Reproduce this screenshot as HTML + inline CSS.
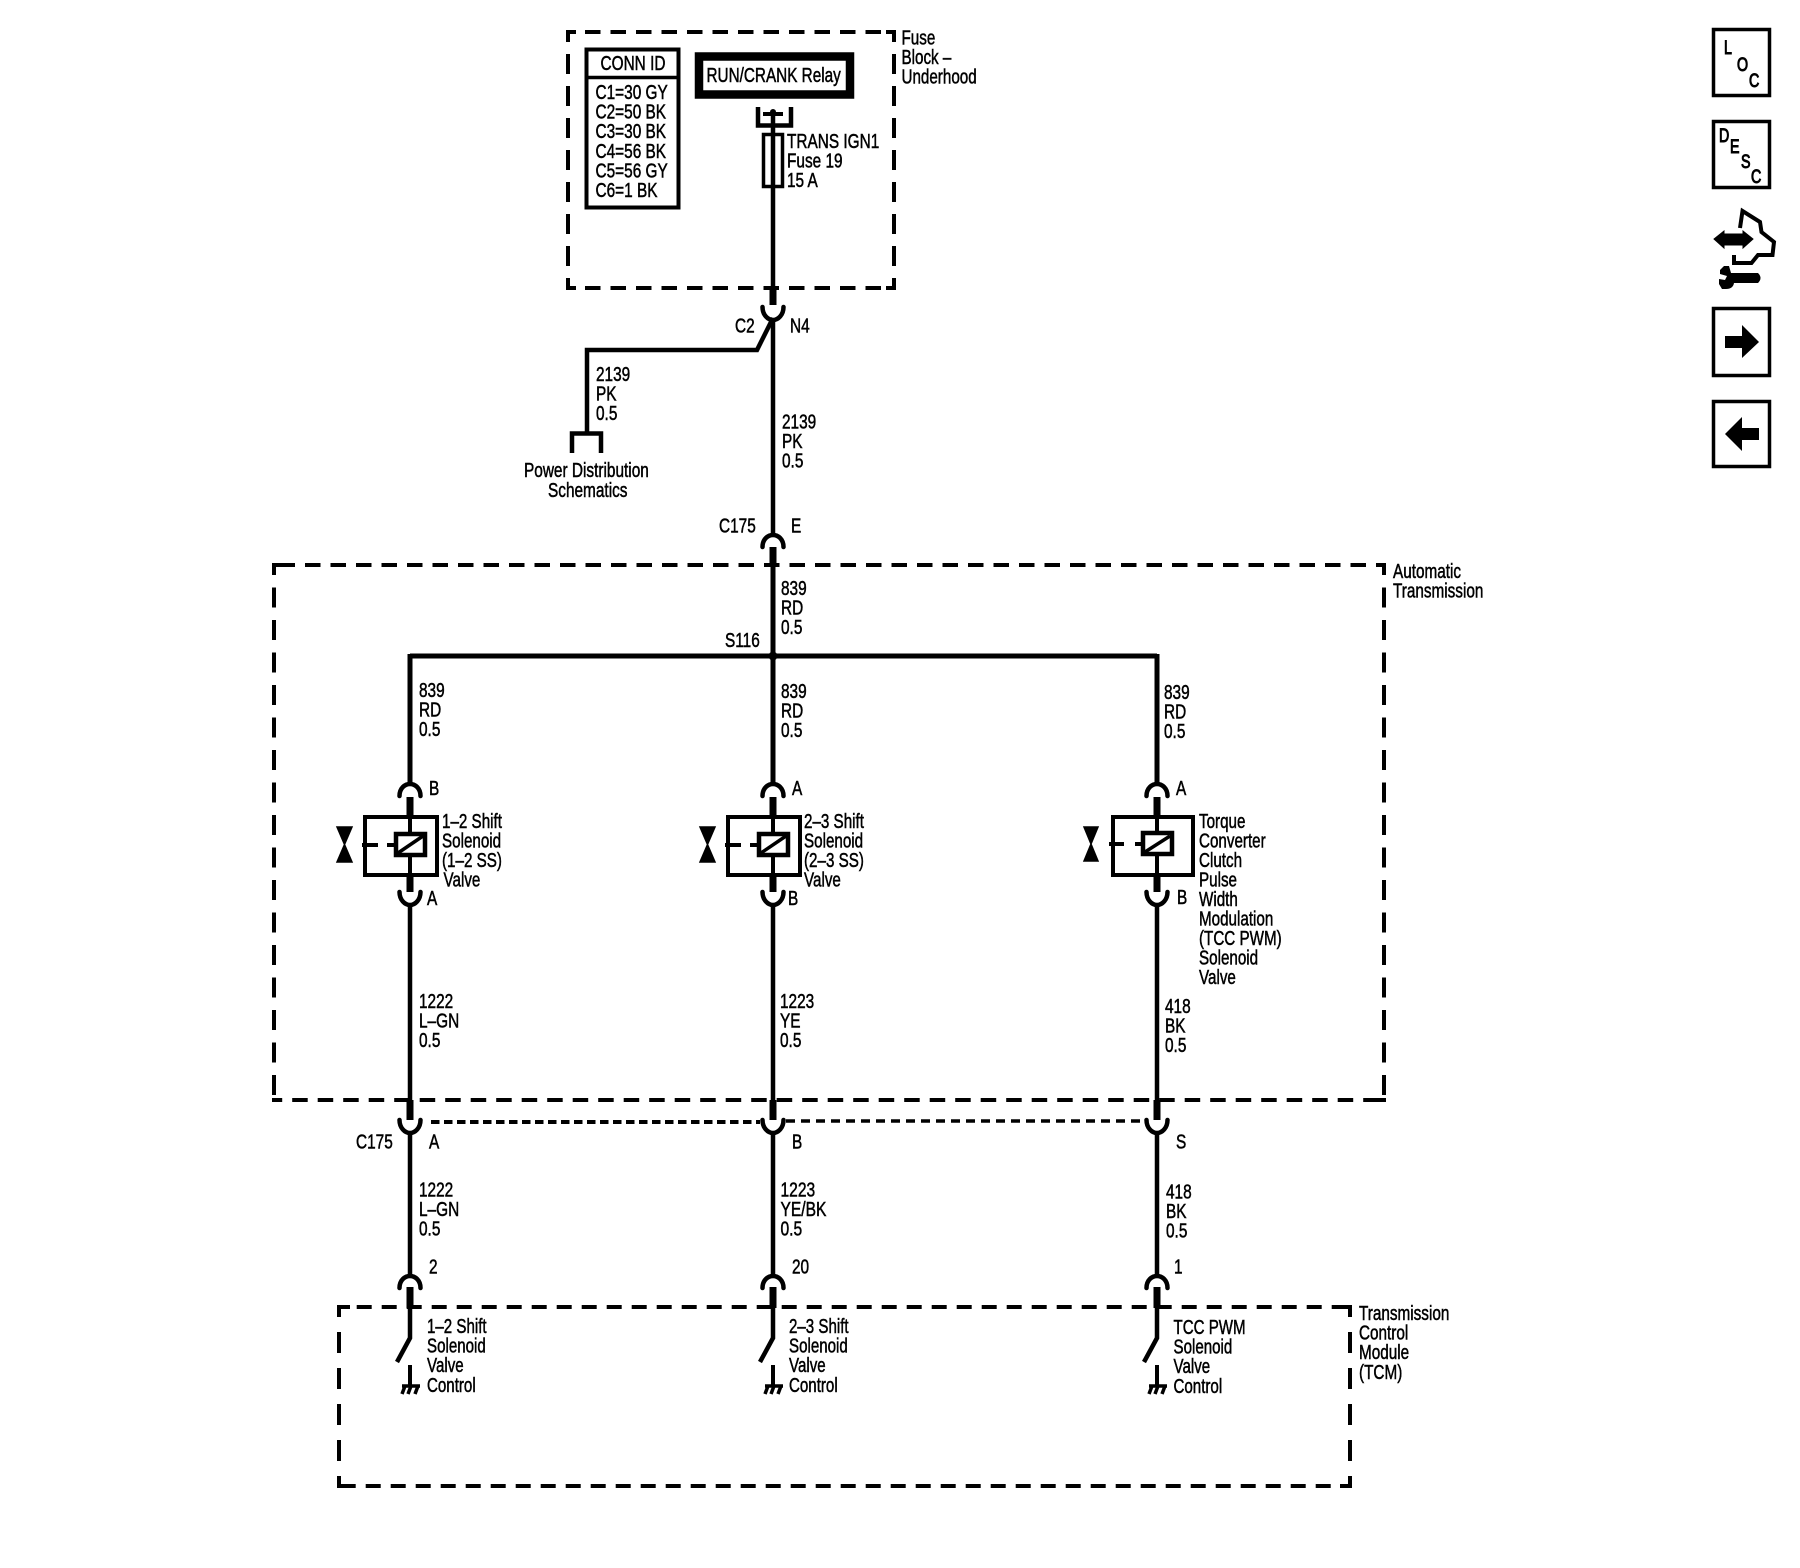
<!DOCTYPE html>
<html><head><meta charset="utf-8">
<style>
html,body{margin:0;padding:0;background:#fff}
svg{display:block}
text{font-family:"Liberation Sans",sans-serif;font-size:20px;fill:#000;stroke:#000;stroke-width:.5}
.w{fill:none;stroke:#000;stroke-width:4.500}
.t{fill:none;stroke:#000;stroke-width:7}
.a{fill:none;stroke:#000;stroke-width:4.500;stroke-linecap:round}
.h{fill:none;stroke:#000;stroke-width:4;stroke-dasharray:15.500 10}
.v{fill:none;stroke:#000;stroke-width:4;stroke-dasharray:20 12;stroke-dashoffset:8}
.b{fill:none;stroke:#000;stroke-width:4}
.i{stroke-width:1;font-size:19px}
</style></head><body>
<svg width="1800" height="1568" viewBox="0 0 1800 1568" xmlns="http://www.w3.org/2000/svg">
<defs>
<g id="top"><path class="a" d="M-10.500 13C-10.500 5-5 1 0 1S10.500 5 10.500 13"/></g>
<g id="bot"><path class="a" d="M-10.500 0C-10.500 8-5 13 0 13S10.500 8 10.500 0"/></g>
<g id="sol">
<rect class="b" x="-45" y="0" width="72" height="58"/>
<rect x="-14" y="17" width="29" height="21" fill="#fff" stroke="#000" stroke-width="4.500"/>
<path d="M-12 36L13 19" stroke="#000" stroke-width="3.500"/>
<path d="M-48 28H-32M-23 28H-14" stroke="#000" stroke-width="4"/>
<path d="M-73 10H-58L-65.500 27.500L-58 45H-73L-65.500 27.500Z" fill="#000" stroke="#000" stroke-width="1.500"/>
<path d="M0 0V17M0 38V58" stroke="#000" stroke-width="4"/>
</g>
<g id="gnd">
<path d="M0 0V20" stroke="#000" stroke-width="4"/>
<path d="M-8 21H10" stroke="#000" stroke-width="3.500"/>
<path d="M-5 21L-8 29M1 21L-2 29M8 21L5 29" stroke="#000" stroke-width="3.500"/>
</g>
</defs>

<!-- Fuse block -->
<path class="h" style="stroke-dashoffset:8.500" d="M568 32H894M568 288H894"/>
<path class="v" d="M568 30V290M894 30V290"/>
<path d="M566 32H576M886 32H896M566 288H576M886 288H896" stroke="#000" stroke-width="4"/>
<rect x="586.500" y="49.500" width="92" height="158" fill="#fff" stroke="#000" stroke-width="4"/>
<path d="M586 77.500H679" stroke="#000" stroke-width="3.500"/>
<rect x="699" y="56.500" width="151" height="38" fill="#fff" stroke="#000" stroke-width="8.500"/>

<path d="M758 107V125.500H791V107" class="w"/>
<path d="M763 114H783" stroke="#000" stroke-width="4"/>
<path d="M773 110V288" class="w"/>
<circle cx="773" cy="112" r="3"/>
<rect x="763.500" y="134.500" width="19" height="52" fill="none" stroke="#000" stroke-width="3.500"/>
<path d="M773 288V305" class="t"/>
<use href="#bot" x="773" y="307"/>

<!-- C2 branch -->
<path class="w" d="M773 318V535"/>
<path class="w" d="M773 318L757 350H587V433"/>
<path class="w" d="M572 453V433.500H601V453"/>
<use href="#top" x="773" y="534"/>
<path d="M773 547V567" class="t"/>

<!-- Auto trans box -->
<path class="h" style="stroke-dashoffset:20" d="M274 565H1384"/>
<path class="h" style="stroke-dashoffset:7.300" d="M274 1100H1384"/>
<path class="v" style="stroke-dasharray:20 12.500" d="M274 563V1102M1384 563V1102"/>
<path d="M272 565H282M1376 565H1386M272 1100H282M1376 1100H1386" stroke="#000" stroke-width="4"/>
<path d="M773 567V660M410 656H1157M410 654V783M773 654V783M1157 654V783" class="w" style="stroke-width:5"/>
<circle cx="773" cy="656" r="4.500"/>

<!-- solenoids -->
<use href="#top" x="410" y="783"/><path class="t" d="M410 797V817M410 875V892"/>
<use href="#sol" transform="translate(410 817)"/>
<use href="#bot" x="410" y="892"/>
<use href="#top" x="773" y="783"/><path class="t" d="M773 797V817M773 875V892"/>
<use href="#sol" x="773" y="817"/>
<use href="#bot" x="773" y="892"/>
<use href="#top" x="1157" y="783"/><path class="t" d="M1157 797V817M1157 875V892"/>
<rect class="b" x="1113" y="817" width="80" height="58"/>
<rect x="1143" y="833" width="29" height="21" fill="#fff" stroke="#000" stroke-width="4.500"/>
<path d="M1145 852L1170 836" stroke="#000" stroke-width="3.500"/>
<path d="M1109 844H1124M1135 844H1143" stroke="#000" stroke-width="4"/>
<path d="M1084 827H1098L1091 844L1098 861H1084L1091 844Z" fill="#000" stroke="#000" stroke-width="1.500"/>
<path d="M1157 817V833M1157 854V875" stroke="#000" stroke-width="4"/>
<use href="#bot" x="1157" y="892"/>

<!-- vertical wires to C175 lower -->
<path class="w" d="M410 906V1100M773 906V1100M1157 906V1100"/>
<path class="t" d="M410 1100V1120M773 1100V1120M1157 1100V1120"/>
<use href="#bot" x="410" y="1120"/><use href="#bot" x="773" y="1120"/><use href="#bot" x="1157" y="1120"/>
<path d="M431 1122H760" stroke="#000" stroke-width="4" stroke-dasharray="8.500 4.500" fill="none"/>
<path d="M786 1121H1145" stroke="#000" stroke-width="3.500" stroke-dasharray="9 6" fill="none"/>
<path class="w" d="M410 1133V1275M773 1133V1275M1157 1133V1275"/>
<use href="#top" x="410" y="1275"/><use href="#top" x="773" y="1275"/><use href="#top" x="1157" y="1275"/>
<path class="t" d="M410 1287V1308M773 1287V1308M1157 1287V1308"/>

<!-- TCM -->
<path class="h" style="stroke-dasharray:15 10;stroke-dashoffset:7.300" d="M339 1307H1350"/>
<path class="h" style="stroke-dasharray:15 10;stroke-dashoffset:23.300" d="M339 1486H1350"/>
<path class="v" style="stroke-dasharray:21 15;stroke-dashoffset:9" d="M339 1305V1488M1350 1305V1488"/>
<path d="M1340 1307H1352M1340 1486H1352M337 1307H350M337 1486H350" stroke="#000" stroke-width="4"/>
<path class="w" d="M410 1308V1338L397 1362M773 1308V1338L760 1362M1157 1308V1338L1144 1362"/>
<use href="#gnd" x="410" y="1365"/><use href="#gnd" x="773" y="1365"/><use href="#gnd" x="1157" y="1365"/>

<!-- Text: Fuse block -->
<text transform="translate(901.500 44.500) scale(.76 1)"><tspan x="0">Fuse</tspan><tspan x="0" dy="19.600">Block –</tspan><tspan x="0" dy="19.600">Underhood</tspan></text>
<text transform="translate(600.500 70) scale(.77 1)">CONN ID</text>
<text transform="translate(595.500 99) scale(.77 1)"><tspan x="0">C1=30 GY</tspan><tspan x="0" dy="19.600">C2=50 BK</tspan><tspan x="0" dy="19.600">C3=30 BK</tspan><tspan x="0" dy="19.600">C4=56 BK</tspan><tspan x="0" dy="19.600">C5=56 GY</tspan><tspan x="0" dy="19.600">C6=1 BK</tspan></text>
<text transform="translate(706.500 82) scale(.765 1)">RUN/CRANK Relay</text>
<text transform="translate(787 148) scale(.77 1)"><tspan x="0">TRANS IGN1</tspan><tspan x="0" dy="19.600">Fuse 19</tspan><tspan x="0" dy="19.600">15 A</tspan></text>
<text transform="translate(735 332.500) scale(.77 1)">C2</text>
<text transform="translate(790 332.500) scale(.77 1)">N4</text>
<text transform="translate(596 381) scale(.77 1)"><tspan x="0">2139</tspan><tspan x="0" dy="19.600">PK</tspan><tspan x="0" dy="19.600">0.5</tspan></text>
<text transform="translate(782 428.500) scale(.77 1)"><tspan x="0">2139</tspan><tspan x="0" dy="19.600">PK</tspan><tspan x="0" dy="19.600">0.5</tspan></text>
<text transform="translate(524 477) scale(.77 1)">Power Distribution</text>
<text transform="translate(548 497) scale(.77 1)">Schematics</text>
<text transform="translate(719 532.500) scale(.77 1)">C175</text>
<text transform="translate(791 532.500) scale(.77 1)">E</text>
<text transform="translate(781 595) scale(.77 1)"><tspan x="0">839</tspan><tspan x="0" dy="19.600">RD</tspan><tspan x="0" dy="19.600">0.5</tspan></text>
<text transform="translate(725 647) scale(.77 1)">S116</text>
<text transform="translate(1393 578) scale(.765 1)"><tspan x="0">Automatic</tspan><tspan x="0" dy="19.600">Transmission</tspan></text>
<text transform="translate(419 697) scale(.77 1)"><tspan x="0">839</tspan><tspan x="0" dy="19.600">RD</tspan><tspan x="0" dy="19.600">0.5</tspan></text>
<text transform="translate(781 698) scale(.77 1)"><tspan x="0">839</tspan><tspan x="0" dy="19.600">RD</tspan><tspan x="0" dy="19.600">0.5</tspan></text>
<text transform="translate(1164 699) scale(.77 1)"><tspan x="0">839</tspan><tspan x="0" dy="19.600">RD</tspan><tspan x="0" dy="19.600">0.5</tspan></text>
<text transform="translate(429 795) scale(.77 1)">B</text>
<text transform="translate(792 795) scale(.77 1)">A</text>
<text transform="translate(1176 795) scale(.77 1)">A</text>
<text transform="translate(427 905) scale(.77 1)">A</text>
<text transform="translate(788 905) scale(.77 1)">B</text>
<text transform="translate(1177 904) scale(.77 1)">B</text>
<text transform="translate(442 828) scale(.76 1)"><tspan x="0">1–2 Shift</tspan><tspan x="0" dy="19.500">Solenoid</tspan><tspan x="0" dy="19.500">(1–2 SS)</tspan><tspan x="2" dy="19.500">Valve</tspan></text>
<text transform="translate(804 828) scale(.76 1)"><tspan x="0">2–3 Shift</tspan><tspan x="0" dy="19.500">Solenoid</tspan><tspan x="0" dy="19.500">(2–3 SS)</tspan><tspan x="0" dy="19.700">Valve</tspan></text>
<text transform="translate(1199 828) scale(.76 1)"><tspan x="0">Torque</tspan><tspan x="0" dy="19.500">Converter</tspan><tspan x="0" dy="19.500">Clutch</tspan><tspan x="0" dy="19.500">Pulse</tspan><tspan x="0" dy="19.500">Width</tspan><tspan x="0" dy="19.500">Modulation</tspan><tspan x="0" dy="19.500">(TCC PWM)</tspan><tspan x="0" dy="19.500">Solenoid</tspan><tspan x="0" dy="19.500">Valve</tspan></text>
<text transform="translate(419 1008) scale(.77 1)"><tspan x="0">1222</tspan><tspan x="0" dy="19.600">L–GN</tspan><tspan x="0" dy="19.600">0.5</tspan></text>
<text transform="translate(780 1008) scale(.77 1)"><tspan x="0">1223</tspan><tspan x="0" dy="19.600">YE</tspan><tspan x="0" dy="19.600">0.5</tspan></text>
<text transform="translate(1165 1013) scale(.77 1)"><tspan x="0">418</tspan><tspan x="0" dy="19.600">BK</tspan><tspan x="0" dy="19.600">0.5</tspan></text>
<text transform="translate(356 1148.500) scale(.77 1)">C175</text>
<text transform="translate(429 1148.500) scale(.77 1)">A</text>
<text transform="translate(792 1148.500) scale(.77 1)">B</text>
<text transform="translate(1176 1148.500) scale(.77 1)">S</text>
<text transform="translate(419 1196.500) scale(.77 1)"><tspan x="0">1222</tspan><tspan x="0" dy="19.600">L–GN</tspan><tspan x="0" dy="19.600">0.5</tspan></text>
<text transform="translate(780.500 1196.500) scale(.78 1)"><tspan x="0">1223</tspan><tspan x="0" dy="19.600">YE/BK</tspan><tspan x="0" dy="19.600">0.5</tspan></text>
<text transform="translate(1166 1198.500) scale(.77 1)"><tspan x="0">418</tspan><tspan x="0" dy="19.600">BK</tspan><tspan x="0" dy="19.600">0.5</tspan></text>
<text transform="translate(429 1273.500) scale(.77 1)">2</text>
<text transform="translate(792 1273.500) scale(.77 1)">20</text>
<text transform="translate(1174 1273.500) scale(.77 1)">1</text>
<text transform="translate(427 1333) scale(.755 1)"><tspan x="0">1–2 Shift</tspan><tspan x="0" dy="19.600">Solenoid</tspan><tspan x="0" dy="19.600">Valve</tspan><tspan x="0" dy="19.600">Control</tspan></text>
<text transform="translate(789 1333) scale(.755 1)"><tspan x="0">2–3 Shift</tspan><tspan x="0" dy="19.600">Solenoid</tspan><tspan x="0" dy="19.600">Valve</tspan><tspan x="0" dy="19.600">Control</tspan></text>
<text transform="translate(1173.500 1334) scale(.755 1)"><tspan x="0">TCC PWM</tspan><tspan x="0" dy="19.600">Solenoid</tspan><tspan x="0" dy="19.600">Valve</tspan><tspan x="0" dy="19.600">Control</tspan></text>
<text transform="translate(1359 1320) scale(.765 1)"><tspan x="0">Transmission</tspan><tspan x="0" dy="19.600">Control</tspan><tspan x="0" dy="19.600">Module</tspan><tspan x="0" dy="19.600">(TCM)</tspan></text>

<!-- Side icons -->
<rect x="1713.500" y="29.500" width="56" height="66" fill="none" stroke="#000" stroke-width="3.500"/>
<text class="i" transform="translate(1724 54) scale(.75 1)">L</text>
<text class="i" transform="translate(1737 71) scale(.75 1)">O</text>
<text class="i" transform="translate(1749 87) scale(.75 1)">C</text>
<rect x="1713.500" y="121.500" width="56" height="66" fill="none" stroke="#000" stroke-width="3.500"/>
<text class="i" transform="translate(1719 142) scale(.75 1)">D</text>
<text class="i" transform="translate(1730 153) scale(.75 1)">E</text>
<text class="i" transform="translate(1741 168) scale(.75 1)">S</text>
<text class="i" transform="translate(1751 183) scale(.75 1)">C</text>
<path d="M1714 239L1724 231V234H1743V231L1753 239L1743 248V245H1724V248Z" fill="#000" stroke="#000" stroke-width="1"/>
<path d="M1740 228L1742.500 211L1760 222L1761.500 232L1774 242L1772.500 255H1758L1751.500 263H1734V255" fill="none" stroke="#000" stroke-width="4"/>
<path d="M1731 273H1758Q1763 278 1758 283H1734Q1733 289 1726 289H1722L1719 284V279L1725 280L1727 276L1720 274V270L1724 266H1729Z" fill="#000"/>
<rect x="1713.500" y="308.500" width="56" height="67" fill="none" stroke="#000" stroke-width="3.500"/>
<path d="M1725 336H1742V325L1759 342L1742 358V348H1725Z" fill="#000"/>
<rect x="1713.500" y="401.500" width="56" height="65" fill="none" stroke="#000" stroke-width="3.500"/>
<path d="M1759 428H1742V417L1725 434L1742 451V440H1759Z" fill="#000"/>
</svg>
</body></html>
